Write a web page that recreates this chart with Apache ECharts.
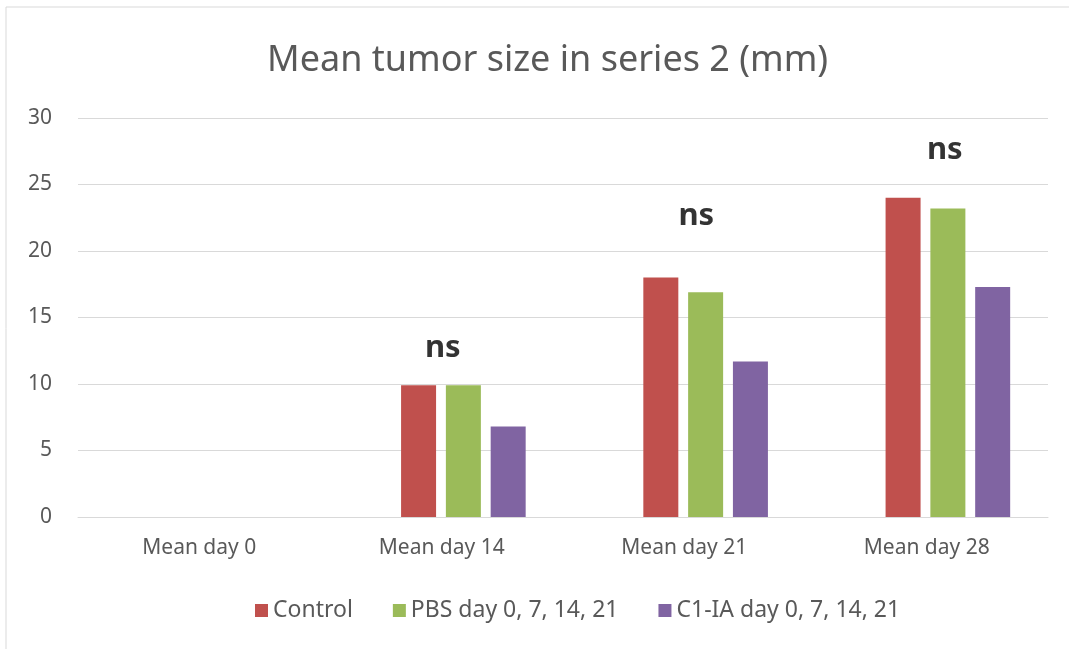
<!DOCTYPE html>
<html><head><meta charset="utf-8">
<script src="https://cdn.jsdelivr.net/npm/echarts@6/dist/echarts.min.js"></script>
<style>html,body{margin:0;padding:0;background:#fff}#c{width:1069px;height:649px}</style>
</head><body><div id="c"></div>
<script>
const categories = ['Mean day 0', 'Mean day 14', 'Mean day 21', 'Mean day 28'];
const seriesNames = ['Control', 'PBS day 0, 7, 14, 21', 'C1-IA day 0, 7, 14, 21'];
const control = [0, 9.9, 18.0, 24.0];
const pbs = [0, 9.9, 16.9, 23.2];
const c1ia = [0, 6.8, 11.7, 17.3];
const nsLabels = ['', 'ns', 'ns', 'ns'];
const nsHeights = [null, 12.7, 22.6, 27.6];
const yTicks = [0, 5, 10, 15, 20, 25, 30];
const colors = ['#C0504D', '#9BBB59', '#8064A2'];
const font = "'Noto Sans', sans-serif";

const yMin = yTicks[0], yMax = yTicks[yTicks.length - 1];
const chart = echarts.init(document.getElementById('c'));
chart.setOption({
  animation: false,
  graphic: [{type: 'rect', shape: {x: 6, y: 7, width: 1080, height: 660}, style: {fill: 'none', stroke: '#d9d9d9', lineWidth: 1}, silent: true}],
  title: {text: 'Mean tumor size in series 2 (mm)', left: 262, top: 38,
    textStyle: {fontFamily: font, fontWeight: 'normal', fontSize: 36, color: '#595959'}},
  legend: {top: 594, left: 250, itemWidth: 13, itemHeight: 13, itemGap: 40,
    icon: 'rect', data: seriesNames,
    textStyle: {fontFamily: font, fontSize: 23, color: '#595959'}},
  grid: [
    {left: 78, right: 21, top: 118, bottom: 132},
    {left: 100, right: -1, top: 118, bottom: 132}
  ],
  xAxis: [
    {type: 'category', data: categories, gridIndex: 0,
      axisLine: {lineStyle: {color: '#d9d9d9'}}, axisTick: {show: false},
      axisLabel: {fontFamily: font, fontSize: 21, color: '#595959', margin: 21}},
    {type: 'category', data: categories, gridIndex: 1, show: false}
  ],
  yAxis: [
    {type: 'value', min: yMin, max: yMax, interval: 5, gridIndex: 0,
      axisLine: {show: false}, axisTick: {show: false},
      splitLine: {lineStyle: {color: '#d9d9d9'}},
      axisLabel: {fontFamily: font, fontSize: 21, color: '#595959', margin: 26}},
    {type: 'value', min: yMin, max: yMax, interval: 5, gridIndex: 1, show: false}
  ],
  series: [
    {name: seriesNames[0], type: 'bar', xAxisIndex: 1, yAxisIndex: 1, data: control, barWidth: 35, barGap: '28%', itemStyle: {color: colors[0]}},
    {name: seriesNames[1], type: 'bar', xAxisIndex: 1, yAxisIndex: 1, data: pbs, barWidth: 35, barGap: '28%', itemStyle: {color: colors[1]}},
    {name: seriesNames[2], type: 'bar', xAxisIndex: 1, yAxisIndex: 1, data: c1ia, barWidth: 35, barGap: '28%', itemStyle: {color: colors[2]}},
    {type: 'scatter', symbolSize: 0, silent: true, xAxisIndex: 0, yAxisIndex: 0,
      data: nsHeights.map((v, i) => v === null ? null : {value: [i, v], label: {offset: [i === 1 ? 1 : (i === 2 ? 12 : 18), 0]}}),
      label: {show: true, position: 'inside', formatter: p => nsLabels[p.dataIndex],
        fontFamily: font, fontWeight: 'bold', fontSize: 31, color: '#000'}}
  ]
});
</script></body></html>
